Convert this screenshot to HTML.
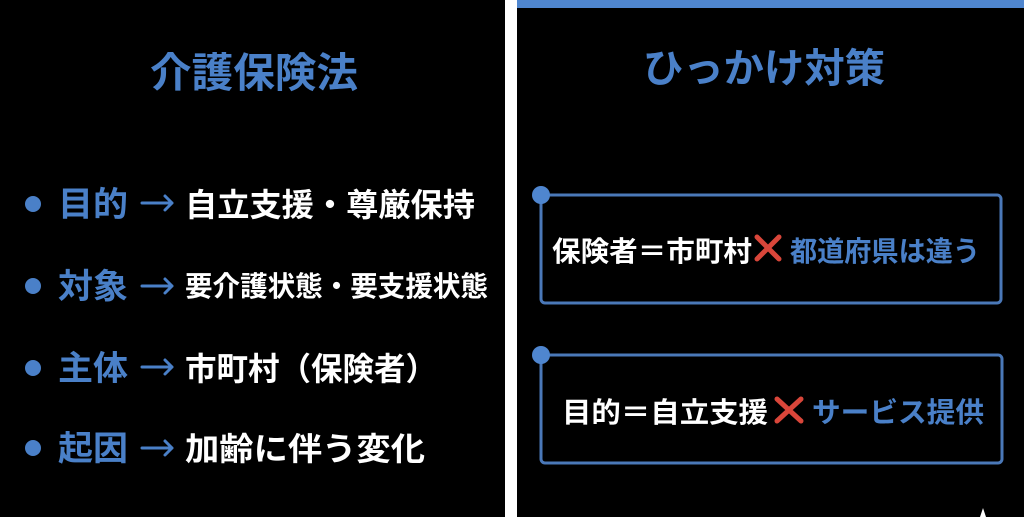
<!DOCTYPE html>
<html><head><meta charset="utf-8"><style>
html,body{margin:0;padding:0;background:#000;}
svg{display:block}
text{font-family:"Liberation Sans","Noto Sans CJK JP",sans-serif;font-weight:bold;}
</style></head><body>
<svg width="1024" height="517" viewBox="0 0 1024 517" xmlns="http://www.w3.org/2000/svg">
<rect x="0" y="0" width="1024" height="517" fill="#000"/>
<rect x="505" y="0" width="12" height="517" fill="#fff"/>
<rect x="517" y="0" width="507" height="8" fill="#4f86cf"/>
<!-- left -->
<text x="150" y="87" font-size="41" fill="#4a80c8" textLength="208" lengthAdjust="spacingAndGlyphs">介護保険法</text>
<g fill="#4a80c8">
<circle cx="33" cy="204" r="8"/><circle cx="33" cy="286" r="8"/><circle cx="33" cy="368" r="8"/><circle cx="33" cy="448" r="8"/>
</g>
<g font-size="34" fill="#4a80c8">
<text x="58" y="216" textLength="70" lengthAdjust="spacingAndGlyphs">目的</text>
<text x="58" y="298" textLength="70" lengthAdjust="spacingAndGlyphs">対象</text>
<text x="58" y="380" textLength="70" lengthAdjust="spacingAndGlyphs">主体</text>
<text x="58" y="460" textLength="70" lengthAdjust="spacingAndGlyphs">起因</text>
</g>
<g stroke="#4a80c8" stroke-width="3" fill="none" stroke-linecap="round" stroke-linejoin="round">
<path d="M142 203 H172 M165 196 L172 203 L165 210"/>
<path d="M142 286 H172 M165 279 L172 286 L165 293"/>
<path d="M142 367 H172 M165 360 L172 367 L165 374"/>
<path d="M142 448 H172 M165 441 L172 448 L165 455"/>
</g>
<g fill="#fff">
<text x="185" y="216" font-size="32" textLength="290" lengthAdjust="spacingAndGlyphs">自立支援・尊厳保持</text>
<text x="185" y="296" font-size="28" textLength="303" lengthAdjust="spacingAndGlyphs">要介護状態・要支援状態</text>
<text x="185" y="380" font-size="32" textLength="252" lengthAdjust="spacingAndGlyphs">市町村（保険者）</text>
<text x="185" y="460" font-size="32" textLength="240" lengthAdjust="spacingAndGlyphs">加齢に伴う変化</text>
</g>
<!-- right -->
<text x="643" y="82" font-size="40" fill="#4a80c8" textLength="242" lengthAdjust="spacingAndGlyphs">ひっかけ対策</text>
<rect x="541" y="195" width="460" height="108" rx="4" fill="none" stroke="#4a78b8" stroke-width="3"/>
<circle cx="541" cy="195" r="9" fill="#4f86cf"/>
<text x="552" y="261" font-size="28" fill="#fff" textLength="200" lengthAdjust="spacingAndGlyphs">保険者＝市町村</text>
<path d="M757 237 L779 259 M779 237 L757 259" stroke="#d9463a" stroke-width="5" stroke-linecap="round"/>
<text x="790" y="261" font-size="28" fill="#4a80c8" textLength="190" lengthAdjust="spacingAndGlyphs">都道府県は違う</text>
<rect x="541" y="355" width="461" height="108" rx="4" fill="none" stroke="#4a78b8" stroke-width="3"/>
<circle cx="541" cy="355" r="9" fill="#4f86cf"/>
<text x="562" y="422" font-size="28" fill="#fff" textLength="206" lengthAdjust="spacingAndGlyphs">目的＝自立支援</text>
<path d="M777 399 L801 421 M801 399 L777 421" stroke="#d9463a" stroke-width="5" stroke-linecap="round"/>
<text x="812" y="422" font-size="28" fill="#4a80c8" textLength="172" lengthAdjust="spacingAndGlyphs">サービス提供</text>
<polygon points="980,517 983,508 986,517" fill="#fff"/>
</svg>
</body></html>
